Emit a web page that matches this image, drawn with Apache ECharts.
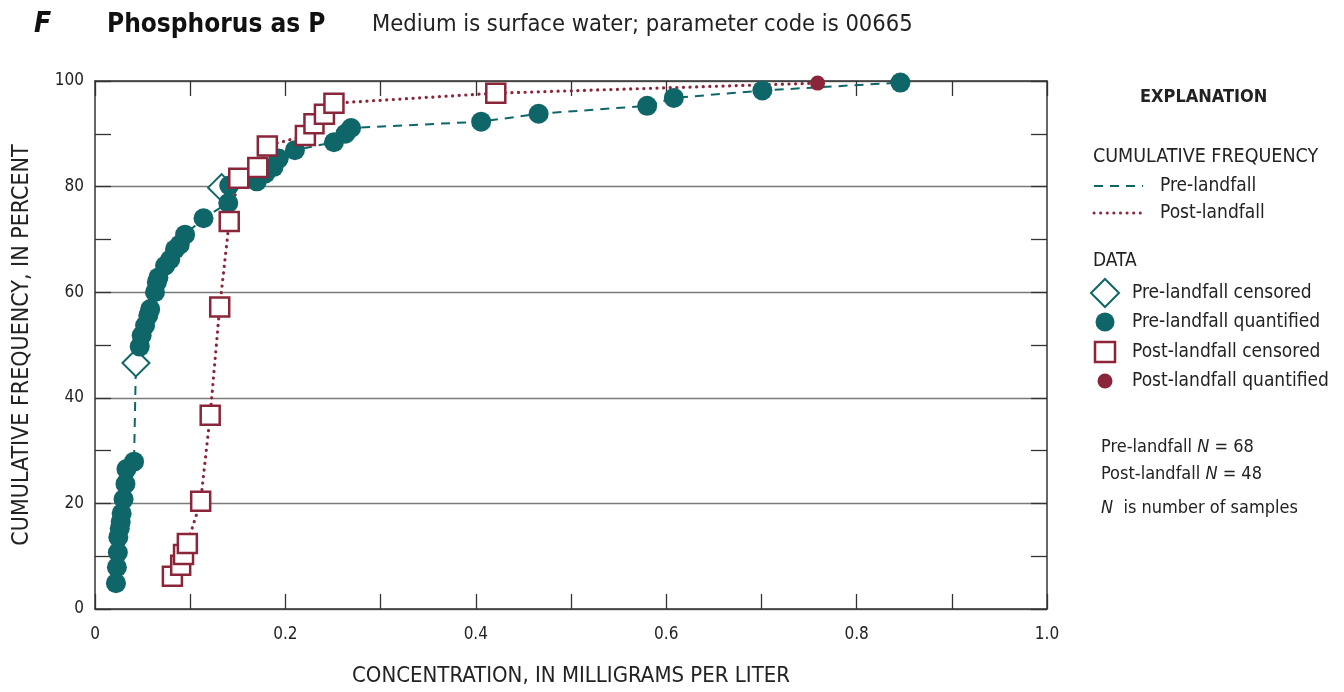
<!DOCTYPE html>
<html>
<head>
<meta charset="utf-8">
<script src="https://cdn.jsdelivr.net/npm/echarts@6/dist/echarts.min.js"></script>
<style>
  html, body { margin: 0; padding: 0; background: #fff; }
  #chart { width: 1344px; height: 692px; }
</style>
</head>
<body>
<div id="chart"></div>
<script>
// concentration (mg/L), cumulative frequency (%)
const preQuantified = [
  [0.022, 4.9], [0.023, 7.9], [0.024, 10.7], [0.0245, 13.6], [0.026, 15.3], [0.027, 16.5],
  [0.028, 18.1], [0.030, 20.8], [0.032, 23.7], [0.033, 26.5], [0.041, 27.9],
  [0.047, 49.7], [0.049, 51.8], [0.0526, 53.7], [0.056, 55.6], [0.058, 56.8], [0.063, 60.0],
  [0.065, 61.9], [0.0666, 62.8], [0.0736, 65.0], [0.079, 66.2], [0.084, 68.1], [0.089, 69.0],
  [0.0946, 70.9], [0.114, 74.0], [0.140, 76.9], [0.141, 80.2], [0.170, 81.0], [0.179, 82.5],
  [0.1875, 83.7], [0.193, 85.3], [0.210, 86.9], [0.251, 88.4], [0.263, 90.0], [0.269, 91.1],
  [0.4056, 92.3], [0.466, 93.8], [0.580, 95.3], [0.608, 96.8], [0.701, 98.2], [0.846, 99.7]
]
const preCensored = [[0.043, 46.6], [0.133, 79.8]]
const postCensored = [
  [0.0813, 6.2], [0.090, 8.3], [0.093, 10.3], [0.097, 12.4], [0.111, 20.4], [0.121, 36.7],
  [0.131, 57.2], [0.141, 73.4], [0.151, 81.6], [0.171, 83.6], [0.181, 87.7], [0.221, 89.7],
  [0.230, 91.9], [0.241, 93.7], [0.251, 95.8], [0.421, 97.7]
]
const postQuantified = [[0.759, 99.6]]
const xTicks = [0, 0.2, 0.4, 0.6, 0.8, 1.0]
const yTicks = [0, 20, 40, 60, 80, 100]

const TEAL = "#0f6668"
const WINE = "#8b2539"
const FONT = '"Liberation Sans Narrow", "DejaVu Sans Condensed", "Roboto Condensed", sans-serif'

// cumulative curves run through every sample, ordered by frequency
const byFreq = (a, b) => a[1] - b[1]
const preLine = preQuantified.concat(preCensored).sort(byFreq)
const postLine = postCensored.concat(postQuantified).sort(byFreq)

const chart = echarts.init(document.getElementById("chart"))

const baseX = {
  type: "value", min: 0, max: 1, interval: 0.2,
  axisLine: { show: true, onZero: false, lineStyle: { color: "#333", width: 1.5 } },
  axisTick: { show: true, inside: true, length: 15, lineStyle: { color: "#333", width: 1.3 } },
  minorTick: { show: true, splitNumber: 2, length: 15, lineStyle: { color: "#333", width: 1.3 } },
  splitLine: { show: false }
}
const baseY = {
  type: "value", min: 0, max: 100, interval: 20,
  axisLine: { show: true, onZero: false, lineStyle: { color: "#333", width: 1.5 } },
  axisTick: { show: true, inside: true, length: 16, lineStyle: { color: "#333", width: 1.3 } },
  minorTick: { show: true, splitNumber: 2, length: 16, lineStyle: { color: "#333", width: 1.3 } }
}

function legendText(x, y, text, size, weight) {
  return {
    type: "text", left: x, top: y,
    style: { text: text, fill: "#222", font: (weight || "normal") + " " + (size || 19) + "px " + FONT }
  }
}

function nText(x, y, text) {
  return {
    type: "text", left: x, top: y,
    style: {
      text: text, fill: "#222", font: "18px " + FONT,
      rich: { i: { fontStyle: "italic", fontSize: 18, fontFamily: FONT, fill: "#222" } }
    }
  }
}

chart.setOption({
  animation: false,
  textStyle: { fontFamily: FONT },
  grid: { left: 95, right: 297, top: 81, bottom: 81, containLabel: false },
  xAxis: [
    Object.assign({}, baseX, {
      position: "bottom",
      name: "CONCENTRATION, IN MILLIGRAMS PER LITER",
      nameLocation: "middle", nameGap: 56,
      nameTextStyle: { fontSize: 22, color: "#222", fontFamily: FONT },
      axisLabel: {
        show: true, margin: 17, fontSize: 17, color: "#222", fontFamily: FONT,
        formatter: v => {
          const t = xTicks.find(k => Math.abs(k - v) < 1e-6)
          return t === undefined ? "" : (t === 0 ? "0" : t.toFixed(1))
        }
      }
    }),
    Object.assign({}, baseX, { position: "top", axisLabel: { show: false } })
  ],
  yAxis: [
    Object.assign({}, baseY, {
      position: "left",
      name: "CUMULATIVE FREQUENCY, IN PERCENT",
      nameLocation: "middle", nameGap: 61, nameRotate: 90,
      nameTextStyle: { fontSize: 23, color: "#222", fontFamily: FONT },
      axisLabel: {
        show: true, margin: 11, fontSize: 17, color: "#222", fontFamily: FONT,
        formatter: v => (yTicks.indexOf(v) >= 0 ? String(v) : "")
      },
      splitLine: { show: true, lineStyle: { color: "#7a7a7a", width: 1.3 } }
    }),
    Object.assign({}, baseY, { position: "right", axisLabel: { show: false }, splitLine: { show: false } })
  ],
  series: [
    {
      name: "Pre-landfall", type: "line", data: preLine, symbol: "none", z: 2,
      lineStyle: { color: TEAL, width: 2, type: [9, 7] }
    },
    {
      name: "Post-landfall", type: "line", data: postLine, symbol: "none", z: 2,
      lineStyle: { color: WINE, width: 3.2, type: [0.1, 6.5], cap: "round" }
    },
    {
      name: "Pre-landfall censored", type: "scatter", data: preCensored, z: 3,
      symbol: "diamond", symbolSize: [27, 27],
      itemStyle: { color: "#fff", borderColor: TEAL, borderWidth: 2, opacity: 1 }
    },
    {
      name: "Pre-landfall quantified", type: "scatter", data: preQuantified, z: 4,
      symbol: "circle", symbolSize: 20,
      itemStyle: { color: TEAL, opacity: 1 }
    },
    {
      name: "Post-landfall censored", type: "scatter", data: postCensored, z: 5,
      symbol: "rect", symbolSize: 19,
      itemStyle: { color: "#fff", borderColor: WINE, borderWidth: 2.5, opacity: 1 }
    },
    {
      name: "Post-landfall quantified", type: "scatter", data: postQuantified, z: 6,
      symbol: "circle", symbolSize: 15,
      itemStyle: { color: WINE, opacity: 1 }
    }
  ],
  graphic: [
    // heading
    { type: "text", left: 34, top: 11, style: { text: "F", fill: "#111", font: "italic bold 28px " + FONT } },
    { type: "text", left: 107, top: 12, style: { text: "Phosphorus as P", fill: "#111", font: "bold 26px " + FONT } },
    { type: "text", left: 372, top: 13, style: { text: "Medium is surface water; parameter code is 00665", fill: "#222", font: "23.5px " + FONT } },
    // explanation
    legendText(1140, 88, "EXPLANATION", 18, "bold"),
    legendText(1093, 147, "CUMULATIVE FREQUENCY", 19.5),
    { type: "line", shape: { x1: 1094, y1: 186, x2: 1143, y2: 186 }, style: { stroke: TEAL, lineWidth: 2, lineDash: [9, 7] } },
    legendText(1160, 177, "Pre-landfall", 19),
    { type: "line", shape: { x1: 1094, y1: 213, x2: 1143, y2: 213 }, style: { stroke: WINE, lineWidth: 3, lineDash: [0.1, 6.5], lineCap: "round" } },
    legendText(1160, 204, "Post-landfall", 19),
    legendText(1093, 252, "DATA", 19),
    { type: "polygon", shape: { points: [[1105, 279], [1119, 293], [1105, 307], [1091, 293]] }, style: { fill: "#fff", stroke: TEAL, lineWidth: 2 } },
    legendText(1132, 284, "Pre-landfall censored", 19),
    { type: "circle", shape: { cx: 1105, cy: 322, r: 9.5 }, style: { fill: TEAL } },
    legendText(1132, 313, "Pre-landfall quantified", 19),
    { type: "rect", shape: { x: 1095, y: 342, width: 20, height: 20 }, style: { fill: "#fff", stroke: WINE, lineWidth: 2.5 } },
    legendText(1132, 343, "Post-landfall censored", 19),
    { type: "circle", shape: { cx: 1105, cy: 381, r: 7.5 }, style: { fill: WINE } },
    legendText(1132, 372, "Post-landfall quantified", 19),
    nText(1101, 438, "Pre-landfall {i|N} = 68"),
    nText(1101, 465, "Post-landfall {i|N} = 48"),
    nText(1101, 499, "{i|N}  is number of samples")
  ]
})
</script>
</body>
</html>
